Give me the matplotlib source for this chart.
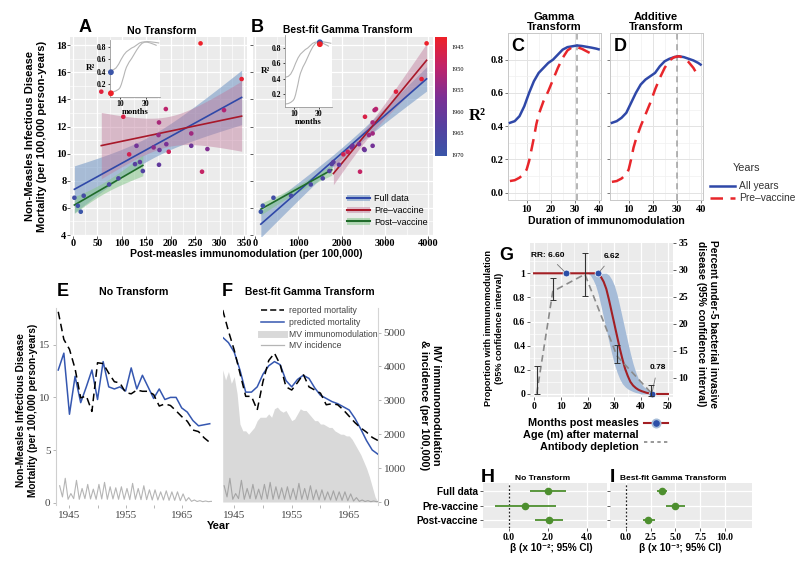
import numpy as np
import matplotlib
matplotlib.use('Agg')
import matplotlib.pyplot as plt
from matplotlib.colors import LinearSegmentedColormap, Normalize
from matplotlib.cm import ScalarMappable
from matplotlib.lines import Line2D
from matplotlib.patches import Patch

# ---------------- data ----------------
years = np.arange(1943, 1971)
mortality = [18.13, 15.5, 14.57, 12.72, 9.95, 10.14, 8.67, 13.29, 13.21, 12.3,
             11.49, 11.37, 10.46, 10.34, 10.7, 10.58, 10.58, 10.27, 9.18, 9.38,
             9.23, 8.72, 8.18, 7.73, 6.9, 6.75, 6.16, 5.72]
immuno_raw = [261, 345, 58, 103, 115, 196, 264, 190, 309, 176,
              242, 175, 165, 275, 191, 130, 242, 177, 176, 137,
              127, 143, 93, 74, 22, 3, 10, 16]
immuno_gamma = [3962, 3846, 3254, 2538, 2038, 2138, 2423, 2792, 2760, 2715,
                2715, 2631, 2231, 2515, 2400, 2715, 2250, 2530, 1938, 1808,
                1770, 1715, 1562, 1285, 830, 423, 177, 131]
vaccine_year = 1963

# R^2 vs duration (C: gamma, D: additive)
c_months_all = [3, 5, 7, 9, 11, 13, 15, 17, 19, 21, 23, 25, 27, 29, 31, 33, 35, 37, 39, 40]
c_all = [0.42, 0.43, 0.46, 0.52, 0.60, 0.67, 0.72, 0.75, 0.78, 0.80, 0.83, 0.86, 0.875, 0.88,
         0.885, 0.882, 0.877, 0.872, 0.866, 0.862]
c_months_pre = [3, 5, 7, 9, 10, 11, 12, 13, 14, 15, 17, 19, 21, 23, 25, 27, 29, 31, 33, 35, 37, 38]
c_pre = [0.07, 0.075, 0.09, 0.115, 0.14, 0.19, 0.26, 0.33, 0.41, 0.47, 0.55, 0.61, 0.68, 0.75,
         0.81, 0.855, 0.875, 0.875, 0.865, 0.85, 0.835, 0.825]
d_months_all = [3, 5, 7, 9, 11, 13, 15, 17, 19, 21, 23, 25, 27, 29, 31, 33, 35, 37, 39, 40]
d_all = [0.42, 0.43, 0.45, 0.48, 0.54, 0.60, 0.65, 0.68, 0.70, 0.72, 0.76, 0.79, 0.805, 0.815,
         0.82, 0.815, 0.805, 0.795, 0.78, 0.77]
d_months_pre = [3, 5, 7, 9, 10, 11, 12, 13, 15, 17, 19, 21, 23, 25, 27, 29, 31, 33, 35, 37, 39]
d_pre = [0.065, 0.07, 0.085, 0.11, 0.14, 0.20, 0.27, 0.32, 0.40, 0.47, 0.54, 0.62, 0.69, 0.75,
         0.795, 0.815, 0.82, 0.81, 0.785, 0.75, 0.70]
best_month_gamma = 31
best_month_additive = 30
inset_nt_r2 = [0.39, 0.05]        # all years, pre-vaccine (no transform)
inset_gamma_r2 = [0.875, 0.85]    # all years, pre-vaccine (best gamma)
inset_nt_month = 3

# time series (E, F)
pred_raw = [12.6, 14.2, 8.4, 12.0, 9.5, 11.0, 12.6, 9.8, 13.4, 11.0, 10.8, 11.0, 10.6, 12.8,
            10.8, 12.1, 11.0, 9.9, 10.8, 9.8, 10.0, 10.0, 9.0, 8.6, 7.8, 7.3, 7.4, 7.5]
reported_smooth = [18.3, 16.3, 14.5, 12.3, 10.1, 10.1, 8.8, 11.5, 13.5, 14.2, 13.1, 11.0, 10.7,
                   11.4, 12.2, 11.0, 10.7, 10.4, 9.3, 9.4, 9.3, 8.8, 8.2, 7.6, 7.1, 6.7, 6.2, 5.9]
pred_gamma = [15.7, 15.2, 14.3, 12.6, 10.5, 10.5, 11.0, 12.2, 13.0, 13.4, 13.1, 11.6, 11.0,
              11.7, 12.1, 11.8, 10.9, 10.2, 9.9, 9.6, 9.4, 9.1, 8.8, 8.0, 7.0, 5.9, 5.0, 4.6]
mv_time = np.arange(1943, 1970.01, 0.5)
mv_immuno = [3900, 3600, 3850, 3500, 3700, 3200, 2300, 2100, 2100, 2000, 2100, 2200, 2400, 2500,
             2500, 2500, 2600, 2500, 2750, 2800, 2700, 2650, 2700, 2550, 2400, 2450, 2600, 2750,
             2700, 2700, 2600, 2500, 2400, 2400, 2300, 2300, 2250, 2200, 2200, 2100, 2050, 2000,
             2000, 1950, 1950, 1850, 1700, 1550, 1400, 1200, 1000, 750, 450, 150, 0]
inc_peak = [480, 700, 250, 640, 400, 520, 380, 520, 580, 450, 420, 450, 400, 550, 400, 480,
            360, 360, 300, 330, 300, 300, 240, 130, 60, 40, 30, 20]
inc_trough = [150, 80, 100, 80, 100, 90, 80, 90, 80, 90, 80, 80, 70, 80, 70, 70, 60, 60, 60,
              50, 50, 40, 30, 20, 15, 10, 10, 10]

# G: immunomodulation decay and bacterial disease by age
g_months = [0, 20, 24, 25, 26, 27, 28, 29, 30, 31, 32, 33, 34, 35, 36, 37, 38, 39, 40, 42, 44, 50]
g_prop = [1, 1, 1, 0.97, 0.93, 0.87, 0.78, 0.68, 0.58, 0.48, 0.38, 0.29, 0.21, 0.15, 0.10,
          0.07, 0.05, 0.035, 0.025, 0.01, 0.0, 0.0]
g_band_months = [20, 21, 22, 23, 24, 25, 26, 27, 28, 29, 30, 31, 32, 33, 34, 35, 36, 37, 38,
                 39, 40, 41, 42, 43, 44, 45, 46, 47]
g_band_lo = [1, 0.985, 0.95, 0.9, 0.825, 0.73, 0.63, 0.53, 0.43, 0.335, 0.25, 0.18, 0.125,
             0.085, 0.06, 0.042, 0.03, 0.02, 0.012, 0.007, 0, 0, 0, 0, 0, 0, 0, 0]
g_band_hi = [1, 1, 1, 1, 1, 1, 1, 1, 0.985, 0.95, 0.9, 0.825, 0.73, 0.63, 0.53, 0.43, 0.335,
             0.25, 0.18, 0.125, 0.085, 0.06, 0.042, 0.03, 0.02, 0.012, 0.007, 0.0]
g_rr_months = [12, 24, 44]
g_rr_prop = [1, 1, 0]
g_rr_text = ['RR: 6.60', '6.62', '0.78']
age_months = [1, 7, 19, 31, 43.5]
age_pct = [7.0, 26.0, 29.2, 14.0, 7.3]
age_lo = [6.9, 24.5, 25.1, 12.7, 6.5]
age_hi = [12.1, 28.5, 33.2, 16.0, 8.6]

# H, I: regression coefficients
coef_labels = ['Full data', 'Pre-vaccine', 'Post-vaccine']
h_est = [2.0, 0.82, 2.07]
h_lo = [1.07, -0.74, 1.33]
h_hi = [2.93, 2.4, 2.76]
i_est = [3.6, 5.0, 2.27]
i_lo = [3.1, 4.1, 1.7]
i_hi = [4.17, 6.0, 2.93]

# ---------------- style ----------------
SANS = ['Liberation Sans', 'DejaVu Sans']
SERIF = ['Liberation Serif', 'DejaVu Serif']
plt.rcParams['font.family'] = SERIF
plt.rcParams['axes.unicode_minus'] = False

BLUE = '#2f48a8'
RED = '#e8262b'
DARKRED = '#a8182a'
GREEN = '#1f6b2a'
PTGREEN = '#4d8f2e'

W, H = 800, 563
fig = plt.figure(figsize=(8, 5.63), dpi=100)


def px_axes(x0, y0, x1, y1):
    return fig.add_axes([x0 / W, 1 - y1 / H, (x1 - x0) / W, (y1 - y0) / H])


def fx(x):
    return x / W


def fy(y):
    return 1 - y / H


def ftext(x, y, s, **kw):
    kw.setdefault('family', SANS)
    return fig.text(fx(x), fy(y), s, **kw)


def gg(ax, size=7.5, bold=True, pad=1):
    ax.set_facecolor('#ebebeb')
    for s in ax.spines.values():
        s.set_visible(False)
    ax.grid(True, which='major', color='white', lw=0.9)
    ax.grid(True, which='minor', color='white', lw=0.45)
    ax.set_axisbelow(True)
    ax.tick_params(which='major', length=2, width=0.6, color='#444444', labelsize=size, pad=pad)
    ax.tick_params(which='minor', length=0)
    if bold:
        for t in ax.get_xticklabels() + ax.get_yticklabels():
            t.set_fontweight('bold')


def ols_band(x, y, grid):
    x = np.asarray(x, float)
    y = np.asarray(y, float)
    n = len(x)
    b, a = np.polyfit(x, y, 1)
    s = np.sqrt(np.sum((y - (a + b * x)) ** 2) / (n - 2))
    sxx = np.sum((x - x.mean()) ** 2)
    df, z = n - 2, 1.96
    t = z + (z ** 3 + z) / (4 * df) + (5 * z ** 5 + 16 * z ** 3 + 3 * z) / (96 * df ** 2)
    se = s * np.sqrt(1 / n + (grid - x.mean()) ** 2 / sxx)
    fit = a + b * grid
    return fit, fit - t * se, fit + t * se


cmap = LinearSegmentedColormap.from_list('yr', ['#ee2027', '#c0236a', '#7d2f94', '#5540a0', '#3a55a8'])
norm = Normalize(1942.7, 1970.2)

yrs = np.asarray(years)
post = yrs >= vaccine_year
groups = [('Full data', np.ones_like(post), BLUE, '#6f95c4', 0.55),
          ('Pre–vaccine', ~post, DARKRED, '#c07a9c', 0.45),
          ('Post–vaccine', post, GREEN, '#86c78c', 0.55)]


def scatter_panel(ax, xvals):
    xv = np.asarray(xvals, float)
    yv = np.asarray(mortality, float)
    for name, m, lc, bc, al in groups:
        grid = np.linspace(xv[m].min(), xv[m].max(), 100)
        fit, lo, hi = ols_band(xv[m], yv[m], grid)
        ax.fill_between(grid, lo, hi, color=bc, alpha=al, lw=0, zorder=2)
        ax.plot(grid, fit, color=lc, lw=1.2, zorder=3)
    ax.scatter(xv, yv, c=yrs, cmap=cmap, norm=norm, s=11, zorder=5, edgecolors='none')
    ax.set_ylim(3.93, 18.6)
    ax.set_yticks(range(4, 19, 2))
    ax.set_yticks(range(5, 19, 2), minor=True)


def r2_inset(rect, month, r2, ylim):
    ax = px_axes(*rect)
    ax.set_facecolor('white')
    ax.plot(c_months_all, c_all, color='#b5b5b5', lw=0.8)
    ax.plot(c_months_pre, c_pre, color='#b5b5b5', lw=0.8)
    ax.scatter([month, month], r2, c=['#3a55a8', '#ee2027'], s=10, zorder=4, clip_on=False)
    ax.set_xlim(2.3, 41)
    ax.set_ylim(*ylim)
    ax.set_xticks([10, 30])
    ax.set_yticks([0.2, 0.4, 0.6, 0.8])
    ax.set_yticklabels(['0.2', '0.4', '0.6', '0.8'])
    for s in ['top', 'right']:
        ax.spines[s].set_visible(False)
    for s in ['left', 'bottom']:
        ax.spines[s].set_color('#999999')
        ax.spines[s].set_linewidth(0.6)
    ax.tick_params(length=1.5, width=0.5, labelsize=5.5, pad=1)
    for t in ax.get_xticklabels() + ax.get_yticklabels():
        t.set_fontweight('bold')
    ax.set_xlabel('months', fontsize=6, fontweight='bold', labelpad=0)
    ax.set_ylabel('R²', fontsize=6.5, fontweight='bold', rotation=0, labelpad=5, va='center')
    return ax


# ---------------- A ----------------
axA = px_axes(70, 37, 247, 236)
scatter_panel(axA, immuno_raw)
axA.set_xlim(-6, 356)
axA.set_xticks(range(0, 351, 50))
axA.set_xticks(range(25, 351, 50), minor=True)
gg(axA, pad=0.5)
r2_inset((110, 40, 160, 97), inset_nt_month, inset_nt_r2, (-0.01, 0.91))

# ---------------- B ----------------
axB = px_axes(253, 37, 433, 236)
scatter_panel(axB, immuno_gamma)
axB.set_xlim(-50, 4110)
axB.set_xticks([0, 1000, 2000, 3000, 4000])
axB.set_xticks([500, 1500, 2500, 3500], minor=True)
gg(axB, pad=0.5)
axB.set_yticklabels([])
r2_inset((285, 35, 332, 107), best_month_gamma, inset_gamma_r2, (0.03, 0.97))
handles = [(Patch(facecolor=bc, alpha=al), Line2D([], [], color=lc, lw=1.5)) for _, _, lc, bc, al in groups]
axB.legend(handles, [g[0] for g in groups], loc='lower right', bbox_to_anchor=(1.0, 0.02),
           frameon=False, prop={'family': SANS, 'size': 6.5}, handlelength=2.6,
           labelspacing=0.3, handletextpad=0.4, borderaxespad=0.2)

cax = px_axes(435, 37, 447, 156)
cb = fig.colorbar(ScalarMappable(norm=norm, cmap=cmap), cax=cax)
cb.outline.set_visible(False)
cax.invert_yaxis()
cb.set_ticks([1945, 1950, 1955, 1960, 1965, 1970])
cax.tick_params(labelsize=4.5, length=2, color='white', pad=1)

ftext(85, 27, 'A', fontsize=13, fontweight='bold', ha='center', va='center')
ftext(162, 31, 'No Transform', fontsize=7.7, fontweight='bold', ha='center', va='center')
ftext(257, 27, 'B', fontsize=13, fontweight='bold', ha='center', va='center')
ftext(348, 30, 'Best-fit Gamma Transform', fontsize=7.4, fontweight='bold', ha='center', va='center')
ftext(36, 136, 'Non-Measles Infectious Disease\nMortality (per 100,000 person-years)',
      fontsize=8, fontweight='bold', rotation=90, ha='center', va='center', linespacing=1.2)
ftext(246, 254, 'Post-measles immunomodulation (per 100,000)', fontsize=7.5,
      fontweight='bold', ha='center', va='center')

# ---------------- C, D ----------------
cd = [(px_axes(508, 33, 601, 200), c_months_all, c_all, c_months_pre, c_pre, best_month_gamma,
       'Gamma\nTransform', 'C', 554),
      (px_axes(610, 33, 703, 200), d_months_all, d_all, d_months_pre, d_pre, best_month_additive,
       'Additive\nTransform', 'D', 656)]
for i, (ax, ma, va, mp, vp, best, title, letter, cx) in enumerate(cd):
    ax.set_facecolor('white')
    for s in ax.spines.values():
        s.set_color('#c8c8c8')
        s.set_linewidth(0.7)
    ax.grid(True, which='major', color='#e3e3e3', lw=0.7)
    ax.grid(True, which='minor', color='#f0f0f0', lw=0.5)
    ax.set_axisbelow(True)
    ax.axvline(best, color='#a0a0a0', lw=1.1, dashes=(4, 3), zorder=1)
    ax.plot(ma, va, color=BLUE, lw=1.8, zorder=3)
    ax.plot(mp, vp, color=RED, lw=1.8, dashes=(5, 3), zorder=3)
    ax.set_xlim(2.2, 41)
    ax.set_ylim(-0.044, 0.96)
    ax.set_xticks([10, 20, 30, 40])
    ax.set_xticks([5, 15, 25, 35], minor=True)
    ax.set_yticks([0, 0.2, 0.4, 0.6, 0.8])
    ax.set_yticks([0.1, 0.3, 0.5, 0.7], minor=True)
    ax.set_yticklabels(['0.0', '0.2', '0.4', '0.6', '0.8'])
    ax.tick_params(which='major', length=2, width=0.6, color='#666666', labelsize=7.5, pad=1.5)
    ax.tick_params(which='minor', length=0)
    for t in ax.get_xticklabels() + ax.get_yticklabels():
        t.set_fontweight('bold')
    if i == 1:
        ax.set_yticklabels([])
    ax.text(0.04, 0.97, letter, transform=ax.transAxes, family=SANS, fontsize=13,
            fontweight='bold', va='top', ha='left')
    ftext(cx, 22, title, fontsize=8, fontweight='bold', ha='center', va='center', linespacing=1.1)
cd[0][0].set_ylabel('R²', fontsize=12, fontweight='bold', rotation=0, labelpad=9, va='center')
ftext(606, 221, 'Duration of immunomodulation', fontsize=7.6, fontweight='bold', ha='center', va='center')
ftext(733, 168, 'Years', fontsize=7.8, color='#333333', ha='left', va='center')
fig.legend([Line2D([], [], color=BLUE, lw=1.8), Line2D([], [], color=RED, lw=1.8, dashes=(5, 3))],
           ['All years', 'Pre–vaccine'], loc='upper left',
           bbox_to_anchor=(fx(706), fy(177)), frameon=False,
           prop={'family': SANS, 'size': 7.4}, labelcolor='#333333', handlelength=2.4,
           labelspacing=0.2, handletextpad=0.4, borderaxespad=0)

# ---------------- E, F ----------------
inc_x = np.ravel(np.column_stack([yrs + 0.25, yrs + 0.75]))
inc_y = np.ravel(np.column_stack([inc_peak, inc_trough]))


def ts_axes(rect, xlim):
    ax = px_axes(*rect)
    ax.set_xlim(*xlim)
    ax.set_ylim(-0.22, 18.49)
    tw = ax.twinx()
    tw.set_ylim(-88, 5723)
    ax.set_zorder(tw.get_zorder() + 1)
    ax.patch.set_visible(False)
    for a in (ax, tw):
        for s in a.spines.values():
            s.set_visible(False)
    ax.set_xticks([1945, 1955, 1965])
    ax.set_xticks([1950, 1960], minor=True)
    ax.tick_params(which='both', length=2, width=0.5, color='#999999', labelsize=8,
                   labelcolor='#444444', pad=2)
    return ax, tw


axE, twE = ts_axes((56, 308, 212, 505), (1942.6, 1970.4))
axE.spines['left'].set_visible(True)
axE.spines['left'].set_color('#cfcfcf')
axE.set_yticks([0, 5, 10, 15])
twE.set_yticks([])
twE.plot(inc_x, inc_y, color='#b5b5b5', lw=0.8)
axE.plot(yrs, pred_raw, color='#3557b0', lw=1.1)
axE.plot(yrs, mortality, color='black', lw=1.1, dashes=(5, 3))

axF, twF = ts_axes((222.7, 308, 378, 505), (1943, 1970))
axF.set_yticks([])
twF.spines['right'].set_visible(True)
twF.spines['right'].set_color('#d5d5d5')
twF.fill_between(mv_time, 0, mv_immuno, color='#d9d9d9', lw=0)
twF.plot(inc_x, inc_y, color='#a5a5a5', lw=0.8)
twF.set_yticks([0, 1000, 2000, 3000, 4000, 5000])
twF.tick_params(length=2, width=0.5, color='#999999', labelsize=8, labelcolor='#444444', pad=2)
axF.plot(yrs, pred_gamma, color='#3557b0', lw=1.1)
axF.plot(yrs, reported_smooth, color='black', lw=1.1, dashes=(5, 3))
fig.legend([Line2D([], [], color='black', lw=1.1, dashes=(4, 2)),
            Line2D([], [], color='#3557b0', lw=1.1),
            Line2D([], [], color='#d9d9d9', lw=5),
            Line2D([], [], color='#b5b5b5', lw=0.9)],
           ['reported mortality', 'predicted mortality', 'MV immunomodulation', 'MV incidence'],
           loc='upper left', bbox_to_anchor=(fx(258), fy(303)), frameon=False,
           prop={'family': SANS, 'size': 6.2}, labelcolor='#444444', handlelength=2.6,
           labelspacing=0.3, handletextpad=0.6, borderaxespad=0)

ftext(63, 291, 'E', fontsize=13, fontweight='bold', ha='center', va='center')
ftext(134, 292, 'No Transform', fontsize=7.7, fontweight='bold', ha='center', va='center')
ftext(227, 291, 'F', fontsize=13, fontweight='bold', ha='center', va='center')
ftext(310, 292, 'Best-fit Gamma Transform', fontsize=7.4, fontweight='bold', ha='center', va='center')
ftext(27, 410, 'Non-Measles Infectious Disease\nMortality (per 100,000 person-years)',
      fontsize=7.3, fontweight='bold', rotation=90, ha='center', va='center', linespacing=1.2)
ftext(219, 526, 'Year', fontsize=8, fontweight='bold', ha='center', va='center')
ftext(430, 405, 'MV immunomodulation\n& incidence (per 100,000)', fontsize=7.8,
      fontweight='bold', rotation=270, ha='center', va='center', linespacing=1.15)

# ---------------- G ----------------
axG = px_axes(530, 243, 673, 397)
axG.fill_between(g_band_months, g_band_lo, g_band_hi, color='#a6bcd8', lw=0, zorder=2)
axG.plot(g_months, g_prop, color='#a31f24', lw=1.5, zorder=3)
axG.scatter(g_rr_months, g_rr_prop, s=24, color='#2c4fa8', edgecolors='white', linewidths=0.5,
            zorder=6, clip_on=False)
offsets = [(-13, 13), (10, 12), (4, 19)]
for m, p, s, off in zip(g_rr_months, g_rr_prop, g_rr_text, offsets):
    axG.annotate(s, (m, p), xytext=off, textcoords='offset points', ha='center', va='center',
                 family=SANS, fontsize=6, fontweight='bold', zorder=7,
                 arrowprops=dict(arrowstyle='-', color='#777777', lw=0.6, shrinkA=3, shrinkB=2))
axG.set_xlim(-1.5, 51.9)
axG.set_ylim(-0.025, 1.251)
axG.set_xticks([0, 10, 20, 30, 40, 50])
axG.set_xticks([5, 15, 25, 35, 45], minor=True)
axG.set_yticks([0, 0.2, 0.4, 0.6, 0.8, 1.0])
axG.set_yticks([0.1, 0.3, 0.5, 0.7, 0.9, 1.1], minor=True)
axG.set_yticklabels(['0', '0.2', '0.4', '0.6', '0.8', '1'])
gg(axG, size=7, pad=1.5)
twG = axG.twinx()
twG.set_ylim(6.4, 35)
for s in twG.spines.values():
    s.set_visible(False)
twG.plot(age_months, age_pct, color='#8a8a8a', lw=1.2, dashes=(4, 2.5), zorder=4)
age_err = [np.subtract(age_pct, age_lo), np.subtract(age_hi, age_pct)]
twG.errorbar(age_months, age_pct, yerr=age_err, fmt='none', ecolor='#333333', elinewidth=0.8,
             capsize=2, capthick=0.7, zorder=5)
twG.set_yticks([10, 15, 20, 25, 30, 35])
twG.tick_params(length=2.5, width=0.6, color='#444444', labelsize=7, pad=1.5)
for t in twG.get_yticklabels():
    t.set_fontweight('bold')

ftext(506, 255, 'G', fontsize=13, fontweight='bold', ha='center', va='center')
ftext(489, 328, 'Proportion with immunomodulation', fontsize=6.6,
      fontweight='bold', rotation=90, ha='center', va='center')
ftext(500, 328, '(95% confidence interval)', fontsize=6.6,
      fontweight='bold', rotation=90, ha='center', va='center')
ftext(707, 324, 'Percent under-5 bacterial invasive\ndisease (95% confidence interval)',
      fontsize=7.4, fontweight='bold', rotation=270, ha='center', va='center', linespacing=1.15)
lg = fig.legend([(Line2D([], [], color='#a31f24', lw=1.5),
                  Line2D([], [], marker='o', ls='none', ms=6, mfc='#2c4fa8', mec='#a6bcd8', mew=1.2)),
                 Line2D([], [], color='#888888', lw=1.2, dashes=(2, 2))],
                ['Months post measles', 'Age (m) after maternal\nAntibody depletion'],
                markerfirst=False, loc='upper right', bbox_to_anchor=(fx(672), fy(414)),
                frameon=False, prop={'family': SANS, 'size': 7.8, 'weight': 'bold'},
                handlelength=2.2, labelspacing=0.2, handletextpad=0.5, borderaxespad=0)
for t in lg.get_texts():
    t.set_multialignment('right')

# ---------------- H, I ----------------
hi_panels = [((483, 483, 607, 528), h_est, h_lo, h_hi, (-1.35, 5.05), [0, 2, 4],
              ['0.0', '2.0', '4.0'], 'H', 'No Transform', 'β (x 10⁻²; 95% CI)', 488, 543, 551),
             ((610, 483, 752, 528), i_est, i_lo, i_hi, (-1.58, 12.7), [0, 2.5, 5, 7.5, 10],
              ['0.0', '2.5', '5.0', '7.5', '10.0'], 'I', 'Best-fit Gamma Transform',
              'β (x 10⁻³; 95% CI)', 612, 673, 680)]
rows = np.arange(len(coef_labels))
for k, (rect, est, lo, hi, xl, xt, xtl, letter, title, xlab, lx, tx, xx) in enumerate(hi_panels):
    ax = px_axes(*rect)
    ax.hlines(rows, lo, hi, color=PTGREEN, lw=1.3, zorder=3)
    ax.scatter(est, rows, color=PTGREEN, s=20, zorder=4)
    ax.axvline(0, color='#222222', lw=0.9, ls=(0, (1.5, 1.5)), zorder=2)
    ax.set_xlim(*xl)
    ax.set_ylim(2.55, -0.55)
    ax.set_xticks(xt)
    ax.set_xticklabels(xtl)
    ax.set_yticks(rows)
    ax.set_yticklabels(coef_labels)
    gg(ax, size=7, pad=1.5)
    for t in ax.get_yticklabels():
        t.set_family(SANS)
        t.set_fontsize(7.2)
    if k == 1:
        ax.set_yticklabels([])
    ftext(lx, 478, letter, fontsize=14, fontweight='bold', ha='center', va='center')
    ftext(tx, 479, title, fontsize=6, fontweight='bold', ha='center', va='center')
    ftext(xx, 548, xlab, fontsize=7.2, fontweight='bold', ha='center', va='center',
          family=['Liberation Sans', 'DejaVu Sans'])

fig.savefig('out.png', dpi=100)
